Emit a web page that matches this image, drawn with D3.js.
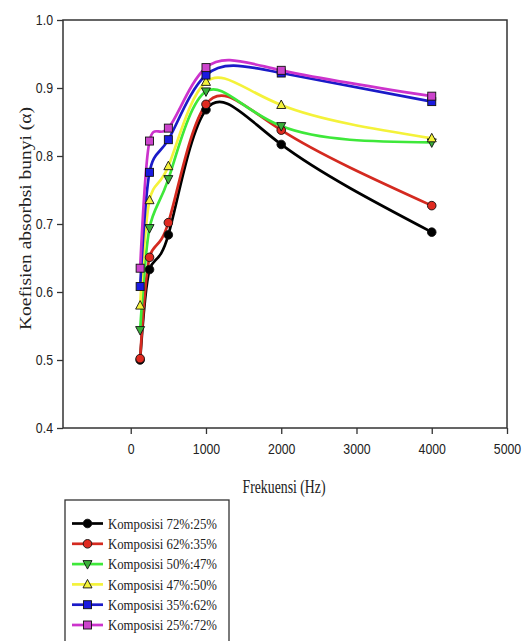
<!DOCTYPE html>
<html>
<head>
<meta charset="utf-8">
<script src="https://cdn.jsdelivr.net/npm/d3@7"></script>
<style>
  body { margin: 0; background: #fff; }
  svg { display: block; }
</style>
</head>
<body>
<svg id="chart" width="531" height="641"></svg>
<script>
const frequencies = [125, 250, 500, 1000, 2000, 4000];

const komposisi72 = [0.500, 0.633, 0.684, 0.868, 0.817, 0.688];
const komposisi62 = [0.502, 0.651, 0.702, 0.876, 0.838, 0.727];
const komposisi50 = [0.544, 0.694, 0.766, 0.895, 0.844, 0.820];
const komposisi47 = [0.580, 0.735, 0.785, 0.909, 0.875, 0.826];
const komposisi35 = [0.608, 0.776, 0.824, 0.919, 0.922, 0.880];
const komposisi25 = [0.635, 0.822, 0.841, 0.930, 0.926, 0.888];

const seriesNames = [
    "Komposisi 72%:25%",
    "Komposisi 62%:35%",
    "Komposisi 50%:47%",
    "Komposisi 47%:50%",
    "Komposisi 35%:62%",
    "Komposisi 25%:72%",
];

const xTicks = [0, 1000, 2000, 3000, 4000, 5000];
const yTicks = [0.4, 0.5, 0.6, 0.7, 0.8, 0.9, 1.0];

const lineColors = ["#000000", "#d42a20", "#3ee83a", "#f4f23a", "#1a1ac8", "#cc33cc"];
const markerFills = ["#000000", "#e02a20", "#3ab03a", "#f4f23a", "#1a1ae0", "#cc44cc"];
const markerShapes = ["circle", "circle", "triDown", "triUp", "square", "square"];

const margin = { left: 63, top: 20, right: 24, bottom: 213 };
const width = 531, height = 641;
const x0 = margin.left, x1 = width - margin.right;
const y0 = height - margin.bottom, y1 = margin.top;

const svg = d3.select("#chart");

const x = d3.scaleLinear().domain([-900, 5000]).range([x0, x1]);
const y = d3.scaleLinear().domain([0.4, 1.0]).range([y0, y1]);

const allSeries = [komposisi72, komposisi62, komposisi50, komposisi47, komposisi35, komposisi25]
    .map((vals, i) => ({
        name: seriesNames[i],
        color: lineColors[i],
        fill: markerFills[i],
        shape: markerShapes[i],
        points: vals.map((v, j) => ({ f: frequencies[j], v: v })),
    }));

const serif = "'Liberation Serif', 'DejaVu Serif', serif";

// the source picture is squeezed sideways, so text is narrowed to match
function condense(sel, factor) {
    sel.each(function () {
        const w = this.getComputedTextLength();
        d3.select(this).attr("textLength", w * factor).attr("lengthAdjust", "spacingAndGlyphs");
    });
}

// frame
svg.append("rect")
    .attr("x", x0).attr("y", y1)
    .attr("width", x1 - x0).attr("height", y0 - y1)
    .attr("fill", "none").attr("stroke", "#333").attr("stroke-width", 1.5);

// axes
const xAxis = svg.append("g")
    .attr("transform", `translate(0,${y0})`)
    .call(d3.axisBottom(x).tickValues(xTicks).tickSize(6).tickPadding(10).tickFormat(d3.format("d")));
const yAxis = svg.append("g")
    .attr("transform", `translate(${x0},0)`)
    .call(d3.axisLeft(y).tickValues(yTicks).tickSize(6).tickPadding(4).tickFormat(d3.format(".1f")));

[xAxis, yAxis].forEach((ax) => {
    ax.select(".domain").remove();
    ax.selectAll("line").attr("stroke", "#333").attr("stroke-width", 1.3);
    ax.selectAll("text")
        .attr("fill", "#222")
        .style("font-family", "'Liberation Sans', Arial, sans-serif")
        .style("font-size", "14px")
        .call(condense, 0.88);
});

// axis titles
svg.append("text")
    .attr("x", 284)
    .attr("y", 493)
    .attr("text-anchor", "middle")
    .attr("font-family", serif)
    .attr("font-size", 19)
    .attr("fill", "#222")
    .attr("textLength", 83)
    .attr("lengthAdjust", "spacingAndGlyphs")
    .text("Frekuensi (Hz)");

svg.append("text")
    .attr("transform", `translate(25,218.5) rotate(-90)`)
    .attr("text-anchor", "middle")
    .attr("dy", "0.35em")
    .attr("font-family", serif)
    .attr("font-size", 17.5)
    .attr("fill", "#222")
    .attr("textLength", 223)
    .attr("lengthAdjust", "spacingAndGlyphs")
    .text("Koefisien absorbsi bunyi (α)");

// lines
const line = d3.line()
    .x((d) => x(d.f))
    .y((d) => y(d.v))
    .curve(d3.curveNatural);

const plot = svg.append("g");

allSeries.forEach((s) => {
    plot.append("path")
        .datum(s.points)
        .attr("d", line)
        .attr("fill", "none")
        .attr("stroke", s.color)
        .attr("stroke-width", 2.7)
        .attr("stroke-linejoin", "round");
});

function drawMarker(g, shape, cx, cy, fill) {
    let m;
    if (shape == "circle") {
        m = g.append("circle").attr("cx", cx).attr("cy", cy).attr("r", 4.3);
    } else if (shape == "square") {
        m = g.append("rect").attr("x", cx - 4).attr("y", cy - 4).attr("width", 8).attr("height", 8);
    } else if (shape == "triUp") {
        m = g.append("path").attr("d", `M${cx},${cy - 5} L${cx + 4.5},${cy + 3.5} L${cx - 4.5},${cy + 3.5} Z`);
    } else {
        m = g.append("path").attr("d", `M${cx},${cy + 5} L${cx + 4.5},${cy - 3.5} L${cx - 4.5},${cy - 3.5} Z`);
    }
    m.attr("fill", fill).attr("stroke", "#111").attr("stroke-width", 0.9);
}

allSeries.forEach((s) => {
    const g = plot.append("g");
    s.points.forEach((p) => drawMarker(g, s.shape, x(p.f), y(p.v), s.fill));
});

// legend
const legend = svg.append("g");
legend.append("rect")
    .attr("x", 65).attr("y", 500)
    .attr("width", 164).attr("height", 150)
    .attr("fill", "#fff").attr("stroke", "#333").attr("stroke-width", 1.3);

allSeries.forEach((s, i) => {
    const ly = 523.5 + i * 20.3;
    legend.append("line")
        .attr("x1", 72).attr("x2", 103)
        .attr("y1", ly).attr("y2", ly)
        .attr("stroke", s.color).attr("stroke-width", 2.7);
    drawMarker(legend, s.shape, 87.5, ly, s.fill);
    legend.append("text")
        .attr("x", 108).attr("y", ly)
        .attr("dy", "0.35em")
        .attr("font-family", serif)
        .attr("font-size", 15)
        .attr("fill", "#222")
        .attr("textLength", 109)
        .attr("lengthAdjust", "spacingAndGlyphs")
        .text(s.name);
});
</script>
</body>
</html>
